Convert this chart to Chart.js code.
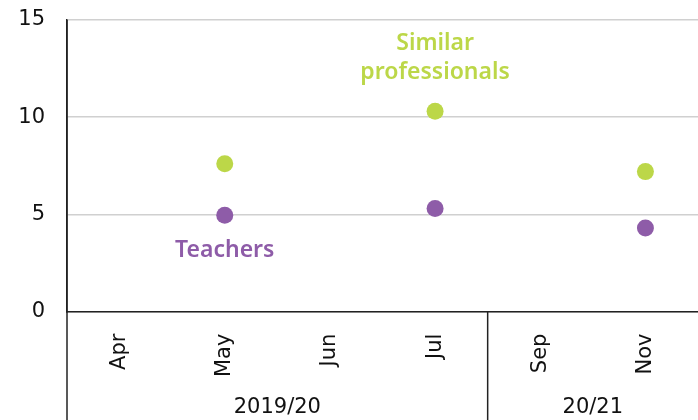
<!DOCTYPE html>
<html>
<head>
<meta charset="utf-8">
<script src="https://cdn.jsdelivr.net/npm/chart.js@4"></script>
<style>
  html, body { margin: 0; padding: 0; background: #fff; }
  #wrap { width: 698px; height: 420px; }
</style>
</head>
<body>
<div id="wrap"><canvas id="chart"></canvas></div>
<script>
const months = ["Apr", "May", "Jun", "Jul", "Sep", "Nov"];
const similarProfessionals = [null, 7.6, null, 10.3, null, 7.2];
const teachers = [null, 4.95, null, 5.3, null, 4.3];
const yTicks = [0, 5, 10, 15];

// year groups: label, first month, last month
const groupLabels = ["2019/20", "20/21"];
const groupStart = ["Apr", "Sep"];
const groupEnd = ["Jul", "Nov"];

const GREEN = "#bcd748";
const PURPLE = "#8e5ca8";
const TICK_FONT = "'DejaVu Sans', sans-serif";
const LABEL_FONT = "'Noto Sans', sans-serif";

// series labels drawn next to the points
const seriesLabels = [
    { lines: ["Similar", "professionals"], month: "Jul", value: 13.8, color: GREEN },
    { lines: ["Teachers"], month: "May", value: 3.15, color: PURPLE }
];

const extras = {
    id: "extras",
    afterDraw(chart) {
        const ctx = chart.ctx;
        const x = chart.scales.x;
        const y = chart.scales.y;
        const area = chart.chartArea;
        const bottom = chart.height;

        ctx.save();
        // left axis line down through the label area
        ctx.strokeStyle = "#222";
        ctx.lineWidth = 1.5;
        ctx.beginPath();
        ctx.moveTo(area.left, area.top);
        ctx.lineTo(area.left, bottom);
        ctx.stroke();

        // divider between the year groups
        for (let g = 1; g < groupLabels.length; g++) {
            const prev = x.getPixelForValue(months.indexOf(groupEnd[g - 1]));
            const next = x.getPixelForValue(months.indexOf(groupStart[g]));
            const dx = (prev + next) / 2;
            ctx.beginPath();
            ctx.moveTo(dx, area.bottom);
            ctx.lineTo(dx, bottom);
            ctx.stroke();
        }

        // year group labels
        ctx.fillStyle = "#111";
        ctx.font = "21px " + TICK_FONT;
        ctx.textAlign = "center";
        ctx.textBaseline = "middle";
        groupLabels.forEach((lab, i) => {
            const a = x.getPixelForValue(months.indexOf(groupStart[i]));
            const b = x.getPixelForValue(months.indexOf(groupEnd[i]));
            ctx.fillText(lab, (a + b) / 2, bottom - 12);
        });

        // series labels
        ctx.font = "600 23px " + LABEL_FONT;
        seriesLabels.forEach(s => {
            const px = x.getPixelForValue(months.indexOf(s.month));
            const py = y.getPixelForValue(s.value);
            ctx.fillStyle = s.color;
            s.lines.forEach((line, i) => {
                ctx.fillText(line, px, py + i * 29);
            });
        });
        ctx.restore();
    }
};

new Chart(document.getElementById("chart"), {
    type: "line",
    data: {
        labels: months,
        datasets: [
            {
                label: "Similar professionals",
                data: similarProfessionals,
                showLine: false,
                pointRadius: 8.5,
                pointBackgroundColor: GREEN,
                pointBorderWidth: 0
            },
            {
                label: "Teachers",
                data: teachers,
                showLine: false,
                pointRadius: 8.5,
                pointBackgroundColor: PURPLE,
                pointBorderWidth: 0
            }
        ]
    },
    options: {
        responsive: true,
        maintainAspectRatio: false,
        animation: false,
        layout: { autoPadding: false, padding: { top: 20, right: 0, bottom: 29, left: 0 } },
        plugins: {
            legend: { display: false },
            tooltip: { enabled: false }
        },
        scales: {
            x: {
                offset: true,
                grid: { display: false },
                border: { display: true, color: "#222", width: 1.5 },
                afterFit: axis => { axis.paddingLeft = 0; axis.paddingRight = 0; },
                ticks: {
                    minRotation: 90,
                    maxRotation: 90,
                    padding: 14,
                    color: "#111",
                    font: { family: TICK_FONT, size: 21 }
                }
            },
            y: {
                min: 0,
                max: 15,
                afterBuildTicks: axis => { axis.ticks = yTicks.map(v => ({ value: v })); },
                afterFit: axis => { axis.width = 67; axis.paddingTop = 0; axis.paddingBottom = 0; },
                grid: { color: "#d0d0d0", lineWidth: 1.5, drawTicks: false },
                border: { display: true, color: "#222", width: 1.5 },
                ticks: {
                    padding: 22,
                    color: "#111",
                    font: { family: TICK_FONT, size: 21 }
                }
            }
        }
    },
    plugins: [extras]
});
</script>
</body>
</html>
